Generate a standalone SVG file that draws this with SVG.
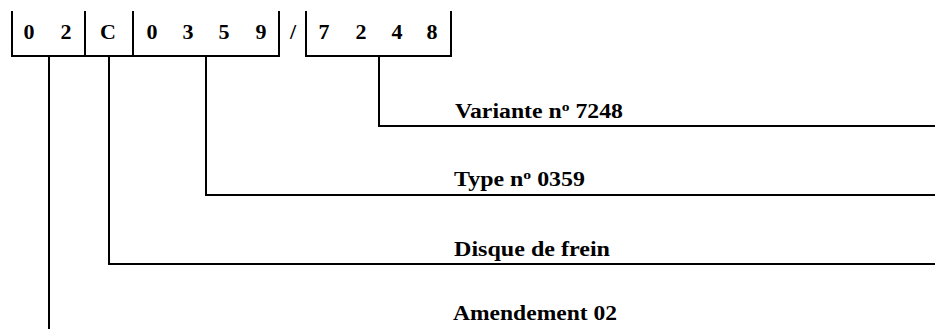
<svg xmlns="http://www.w3.org/2000/svg" width="935" height="329" viewBox="0 0 935 329">
<style>
.ln{stroke:#000;stroke-width:2;fill:none;stroke-linecap:square}
.d{font-family:"Liberation Serif","Times New Roman",serif;font-weight:bold;font-size:22px;text-anchor:middle;fill:#000}
.lb{font-family:"Liberation Serif","Times New Roman",serif;font-weight:bold;font-size:20.5px;fill:#000}
.sup{font-size:13.5px}
</style>
<rect width="935" height="329" fill="#fff"/>
<g id="code-box">
<path class="ln" d="M12,12 V56 H279 V12 M85,12 V56 M133,12 V56"/>
<path class="ln" d="M306,12 V56 H451 V12"/>
<text class="d" x="29" y="39">0</text>
<text class="d" x="66" y="39">2</text>
<text class="d" x="108" y="39">C</text>
<text class="d" x="152" y="39">0</text>
<text class="d" x="188" y="39">3</text>
<text class="d" x="224" y="39">5</text>
<text class="d" x="261" y="39">9</text>
<text class="d" x="293" y="39">/</text>
<text class="d" x="324" y="39">7</text>
<text class="d" x="361" y="39">2</text>
<text class="d" x="397" y="39">4</text>
<text class="d" x="432" y="39">8</text>
</g>
<g id="connectors">
<path class="ln" d="M379,57 V126 H935"/>
<path class="ln" d="M206,57 V195 H935"/>
<path class="ln" d="M109,57 V264 H935"/>
<path class="ln" d="M49,57 V330"/>
</g>
<g id="label-variante">
<text class="lb" x="455" y="118" textLength="168" lengthAdjust="spacingAndGlyphs">Variante n<tspan class="sup" dy="-7">o</tspan><tspan dy="7"> 7248</tspan></text>
</g>
<g id="label-type">
<text class="lb" x="454" y="186" textLength="131" lengthAdjust="spacingAndGlyphs">Type n<tspan class="sup" dy="-7">o</tspan><tspan dy="7"> 0359</tspan></text>
</g>
<g id="label-disque">
<text class="lb" x="454" y="256" textLength="156" lengthAdjust="spacingAndGlyphs">Disque de frein</text>
</g>
<g id="label-amendement">
<text class="lb" x="453" y="320" textLength="164" lengthAdjust="spacingAndGlyphs">Amendement 02</text>
</g>
</svg>
